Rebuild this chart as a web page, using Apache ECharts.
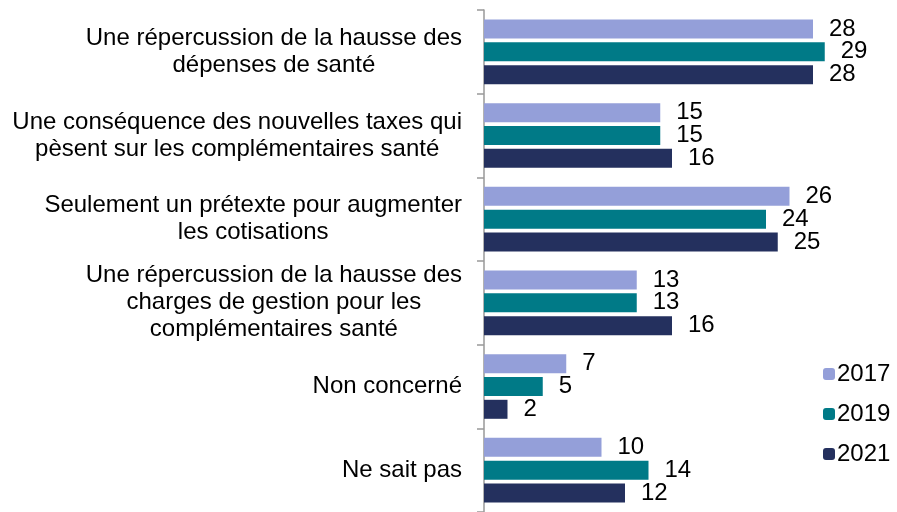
<!DOCTYPE html>
<html><head><meta charset="utf-8">
<script src="https://cdn.jsdelivr.net/npm/echarts@6/dist/echarts.min.js"></script>
<style>html,body{margin:0;padding:0;background:#fff}#c{width:897px;height:512px}</style>
</head><body><div id="c"></div>
<script>
const categories = [
  "Une répercussion de la hausse des\ndépenses de santé",
  "Une conséquence des nouvelles taxes qui\npèsent sur les complémentaires santé",
  "Seulement un prétexte pour augmenter\nles cotisations",
  "Une répercussion de la hausse des\ncharges de gestion pour les\ncomplémentaires santé",
  "Non concerné",
  "Ne sait pas"
];
const seriesNames = ["2017", "2019", "2021"];
const values2017 = [28, 15, 26, 13, 7, 10];
const values2019 = [29, 15, 24, 13, 5, 14];
const values2021 = [28, 16, 25, 16, 2, 12];
const colors = ["#949FD9", "#007A87", "#24305E"];

const font = "Liberation Sans, Arial, sans-serif";
const chart = echarts.init(document.getElementById('c'));
const mk = (name, data, color) => ({
  name, type: 'bar', data, barWidth: 19, barGap: '20%',
  itemStyle: { color },
  label: { show: true, position: 'right', distance: 16, color: '#000', fontSize: 24, fontFamily: font },
  animation: false
});
chart.setOption({
  animation: false,
  grid: { left: 484, top: 10, width: 352.5, height: 504 },
  legend: {
    orient: 'vertical', left: 818, top: 357, itemWidth: 12, itemHeight: 12, itemGap: 16,
    textStyle: { fontSize: 24, fontFamily: font, color: '#000', padding: [0, 0, 0, -3] },
    data: seriesNames
  },
  xAxis: { type: 'value', min: 0, max: 30, show: false },
  yAxis: {
    type: 'category', inverse: true, data: categories,
    axisLine: { show: true, lineStyle: { color: '#999', width: 1.5 } },
    axisTick: { show: true, length: 7, lineStyle: { color: '#999', width: 1.5 } },
    axisLabel: {
      margin: 22, align: 'right', fontSize: 24, fontFamily: font, color: '#000',
      formatter: v => v.split('\n').map(s => '{a|' + s + '}').join('\n'),
      rich: { a: { align: 'center', fontSize: 24, fontFamily: font, color: '#000', lineHeight: 27 } }
    }
  },
  series: [
    mk(seriesNames[0], values2017, colors[0]),
    mk(seriesNames[1], values2019, colors[1]),
    mk(seriesNames[2], values2021, colors[2])
  ]
});
</script></body></html>
